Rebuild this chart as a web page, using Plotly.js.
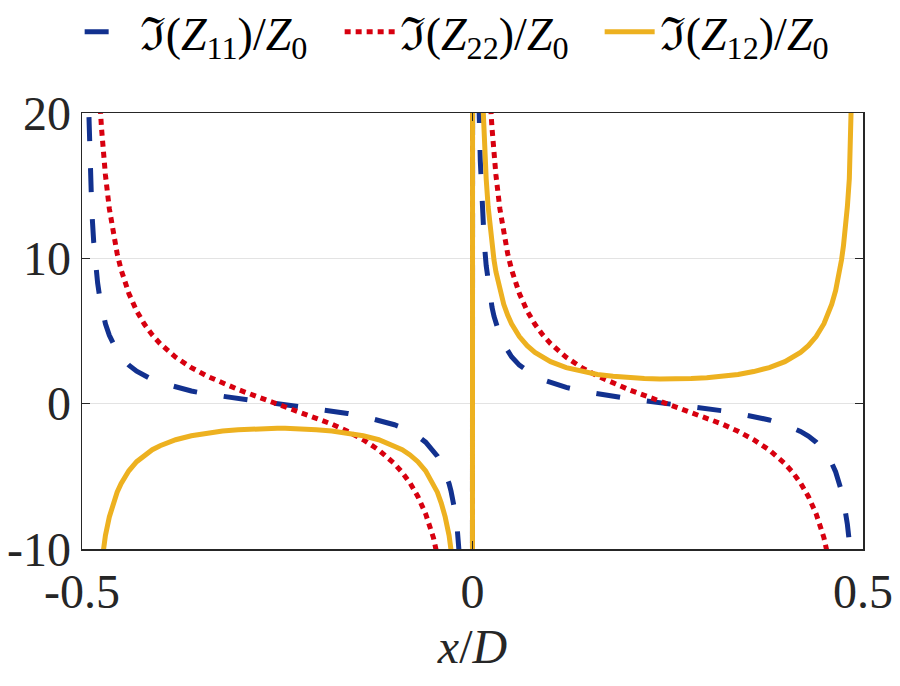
<!DOCTYPE html>
<html>
<head>
<meta charset="utf-8">
<script src="https://cdn.plot.ly/plotly-3.0.1.min.js"></script>
<style>
html,body{margin:0;padding:0;background:#fff;}
#chart{width:900px;height:686px;}
</style>
</head>
<body>
<div id="chart"></div>
<script>
// x/D sample positions
var xPos = [-0.499, -0.4975, -0.495, -0.4925, -0.49, -0.4875, -0.485, -0.4825, -0.48, -0.4775,
  -0.475, -0.4725, -0.47, -0.465, -0.46, -0.455, -0.45, -0.44, -0.43, -0.42,
  -0.41, -0.40, -0.38, -0.36, -0.34, -0.32, -0.30, -0.28, -0.26, -0.25,
  -0.24, -0.22, -0.20, -0.18, -0.16, -0.14, -0.12, -0.10, -0.09, -0.08,
  -0.07, -0.06, -0.05, -0.045, -0.04, -0.035, -0.03, -0.0275, -0.025, -0.0225,
  -0.02, -0.0175, -0.015, -0.0125, -0.01, -0.0075, -0.005, -0.0025, -0.001,
  0.001, 0.0025, 0.005, 0.0075, 0.01, 0.0125, 0.015, 0.0175, 0.02, 0.0225,
  0.025, 0.0275, 0.03, 0.035, 0.04, 0.045, 0.05, 0.06, 0.07, 0.08,
  0.09, 0.10, 0.12, 0.14, 0.16, 0.18, 0.20, 0.22, 0.24, 0.25,
  0.26, 0.28, 0.30, 0.32, 0.34, 0.36, 0.38, 0.40, 0.41, 0.42,
  0.43, 0.44, 0.45, 0.455, 0.46, 0.465, 0.47, 0.4725, 0.475, 0.4775,
  0.48, 0.4825, 0.485, 0.4875, 0.49, 0.4925, 0.495, 0.4975, 0.499];

// Im(Z11)/Z0
var imZ11 = [167.1, 66.84, 33.41, 22.27, 16.69, 13.34, 11.11, 9.51, 8.31, 7.38,
  6.63, 6.02, 5.50, 4.70, 4.09, 3.61, 3.23, 2.65, 2.23, 1.91,
  1.65, 1.45, 1.12, 0.87, 0.67, 0.49, 0.34, 0.20, 0.07, 0.0,
  -0.07, -0.20, -0.34, -0.49, -0.67, -0.87, -1.12, -1.45, -1.65, -1.91,
  -2.23, -2.65, -3.23, -3.61, -4.09, -4.70, -5.50, -6.02, -6.63, -7.38,
  -8.31, -9.51, -11.11, -13.34, -16.69, -22.27, -33.41, -66.84, -167.1,
  167.1, 66.84, 33.41, 22.27, 16.69, 13.34, 11.11, 9.51, 8.31, 7.38,
  6.63, 6.02, 5.50, 4.70, 4.09, 3.61, 3.23, 2.65, 2.23, 1.91,
  1.65, 1.45, 1.12, 0.87, 0.67, 0.49, 0.34, 0.20, 0.07, 0.0,
  -0.07, -0.20, -0.34, -0.49, -0.67, -0.87, -1.12, -1.45, -1.65, -1.91,
  -2.23, -2.65, -3.23, -3.61, -4.09, -4.70, -5.50, -6.02, -6.63, -7.38,
  -8.31, -9.51, -11.11, -13.34, -16.69, -22.27, -33.41, -66.84, -167.1];

// Im(Z22)/Z0
var imZ22 = [477.5, 190.97, 95.46, 63.62, 47.69, 38.12, 31.74, 27.17, 23.75, 21.08,
  18.94, 17.19, 15.73, 13.42, 11.69, 10.33, 9.23, 7.58, 6.38, 5.46,
  4.73, 4.13, 3.19, 2.48, 1.90, 1.41, 0.97, 0.57, 0.19, 0.0,
  -0.19, -0.57, -0.97, -1.41, -1.90, -2.48, -3.19, -4.13, -4.73, -5.46,
  -6.38, -7.58, -9.23, -10.33, -11.69, -13.42, -15.73, -17.19, -18.94, -21.08,
  -23.75, -27.17, -31.74, -38.12, -47.69, -63.62, -95.46, -190.97, -477.5,
  477.5, 190.97, 95.46, 63.62, 47.69, 38.12, 31.74, 27.17, 23.75, 21.08,
  18.94, 17.19, 15.73, 13.42, 11.69, 10.33, 9.23, 7.58, 6.38, 5.46,
  4.73, 4.13, 3.19, 2.48, 1.90, 1.41, 0.97, 0.57, 0.19, 0.0,
  -0.19, -0.57, -0.97, -1.41, -1.90, -2.48, -3.19, -4.13, -4.73, -5.46,
  -6.38, -7.58, -9.23, -10.33, -11.69, -13.42, -15.73, -17.19, -18.94, -21.08,
  -23.75, -27.17, -31.74, -38.12, -47.69, -63.62, -95.46, -190.97, -477.5];

// Im(Z12)/Z0
var imZ12 = [-270.6, -108.23, -54.12, -36.09, -27.07, -21.67, -18.06, -15.49, -13.56, -12.06,
  -10.87, -9.89, -9.07, -7.79, -6.84, -6.09, -5.50, -4.62, -3.99, -3.53,
  -3.17, -2.89, -2.48, -2.21, -2.01, -1.88, -1.79, -1.73, -1.70, -1.70,
  -1.70, -1.73, -1.79, -1.88, -2.01, -2.21, -2.48, -2.89, -3.17, -3.53,
  -3.99, -4.62, -5.50, -6.09, -6.84, -7.79, -9.07, -9.89, -10.87, -12.06,
  -13.56, -15.49, -18.06, -21.67, -27.07, -36.09, -54.12, -108.23, -270.6,
  270.6, 108.23, 54.12, 36.09, 27.07, 21.67, 18.06, 15.49, 13.56, 12.06,
  10.87, 9.89, 9.07, 7.79, 6.84, 6.09, 5.50, 4.62, 3.99, 3.53,
  3.17, 2.89, 2.48, 2.21, 2.01, 1.88, 1.79, 1.73, 1.70, 1.70,
  1.70, 1.73, 1.79, 1.88, 2.01, 2.21, 2.48, 2.89, 3.17, 3.53,
  3.99, 4.62, 5.50, 6.09, 6.84, 7.79, 9.07, 9.89, 10.87, 12.06,
  13.56, 15.49, 18.06, 21.67, 27.07, 36.09, 54.12, 108.23, 270.6];

var seriesNames = ['ℑ(<i>Z</i><sub>11</sub>)/<i>Z</i><sub>0</sub>',
                   'ℑ(<i>Z</i><sub>22</sub>)/<i>Z</i><sub>0</sub>',
                   'ℑ(<i>Z</i><sub>12</sub>)/<i>Z</i><sub>0</sub>'];
var xTickVals = [-0.5, 0, 0.5];
var xTickText = ['-0.5', '0', '0.5'];
var yTickVals = [-10, 0, 10, 20];
var yTickText = ['-10', '0', '10', '20'];

var traces = [
  {x: xPos, y: imZ11, name: seriesNames[0], mode: 'lines',
   line: {color: '#12318f', width: 5, dash: '24px,27px'}},
  {x: xPos, y: imZ22, name: seriesNames[1], mode: 'lines',
   line: {color: '#d7000f', width: 5, dash: '6px,5px'}},
  {x: xPos, y: imZ12, name: seriesNames[2], mode: 'lines',
   line: {color: '#edb120', width: 5}}
];

var serif = "'Liberation Serif', 'Times New Roman', serif";
var layout = {
  width: 900, height: 686,
  margin: {l: 82, r: 37, t: 113, b: 137, autoexpand: false},
  paper_bgcolor: '#ffffff', plot_bgcolor: '#ffffff',
  showlegend: true,
  legend: {orientation: 'h', x: -0.003, xanchor: 'left', y: 1.186, yanchor: 'middle',
           font: {family: serif, size: 46, color: '#000'}, bgcolor: 'rgba(0,0,0,0)',
           itemwidth: 50, entrywidth: 195, entrywidthmode: 'pixels', tracegroupgap: 0},
  xaxis: {range: [-0.5, 0.5], tickvals: xTickVals, ticktext: xTickText,
          showgrid: false, zeroline: false, showline: true, mirror: 'ticks',
          linecolor: '#262626', linewidth: 1.5, ticks: 'inside', ticklen: 8, tickcolor: '#262626',
          tickfont: {family: serif, size: 48, color: '#262626'},
          title: {text: '<i>x</i>/<i>D</i>', font: {family: serif, size: 48, color: '#262626'}, standoff: 12}},
  yaxis: {range: [-10, 20], tickvals: yTickVals, ticktext: yTickText,
          showgrid: true, gridcolor: '#e3e3e3', gridwidth: 1, zeroline: false,
          showline: true, mirror: 'ticks', linecolor: '#262626', linewidth: 1.5,
          ticks: 'inside', ticklen: 8, tickcolor: '#262626',
          tickfont: {family: serif, size: 48, color: '#262626'}}
};

Plotly.newPlot('chart', traces, layout, {displayModeBar: false, staticPlot: true});
</script>
</body>
</html>
